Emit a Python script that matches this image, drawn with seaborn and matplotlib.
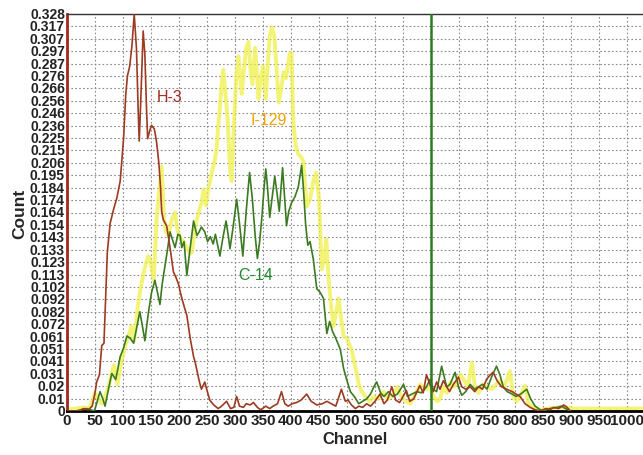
"""
액체섬광 스펙트럼 (H-3, I-129, C-14) 재현
"""

import numpy as np
import pandas as pd
import matplotlib
matplotlib.use("Agg")
import matplotlib.pyplot as plt
import seaborn as sns

# ---------------- 데이터 ----------------
h3_ch = [0, 20, 30, 38, 45, 50, 53, 58, 62, 66, 72, 77, 84, 89, 95, 101, 105, 108, 112, 116,
         120, 124, 127, 129, 132, 136, 139, 142, 144, 148, 151, 156, 160, 164, 167, 169, 172,
         178, 184, 190, 194, 199, 204, 210, 214, 220, 226, 229, 236, 240, 246, 250, 255, 262,
         270, 276, 285, 292, 298, 303, 308, 315, 320, 327, 333, 340, 346, 355, 362, 368, 376,
         383, 389, 395, 402, 410, 418, 428, 436, 446, 456, 464, 472, 480, 490, 497, 502, 508,
         515, 521, 528, 535, 542, 550, 559, 566, 572, 580, 587, 594, 600, 606, 612, 619, 625,
         630, 636, 642, 648, 654, 660, 666, 672, 678, 683, 690, 699, 705, 712, 720, 728, 735,
         742, 749, 756, 761, 768, 776, 785, 795, 802, 809, 818, 827, 836, 845, 855, 862, 869,
         878, 887, 893, 899]
h3_cnt = [0, 0, 0.002, 0.001, 0.004, 0.015, 0.024, 0.03, 0.054, 0.056, 0.131, 0.155, 0.168,
          0.176, 0.19, 0.225, 0.262, 0.277, 0.285, 0.302, 0.328, 0.3, 0.25, 0.223, 0.26, 0.314,
          0.295, 0.25, 0.225, 0.232, 0.236, 0.233, 0.222, 0.205, 0.185, 0.165, 0.158, 0.153,
          0.135, 0.115, 0.111, 0.105, 0.095, 0.085, 0.079, 0.06, 0.045, 0.04, 0.025, 0.018,
          0.024, 0.017, 0.009, 0.005, 0.002, 0.004, 0.008, 0.002, 0.003, 0.012, 0.004, 0.003,
          0.006, 0.005, 0.007, 0.003, 0.001, 0.004, 0.002, 0.004, 0.006, 0.016, 0.006, 0.004,
          0.006, 0.007, 0.009, 0.014, 0.008, 0.005, 0.006, 0.008, 0.006, 0.004, 0.018, 0.008,
          0.009, 0.005, 0.002, 0.004, 0.003, 0.006, 0.004, 0.008, 0.014, 0.006, 0.009, 0.02,
          0.009, 0.007, 0.012, 0.017, 0.008, 0.01, 0.016, 0.021, 0.015, 0.03, 0.022, 0.016,
          0.024, 0.018, 0.025, 0.02, 0.016, 0.022, 0.028, 0.02, 0.018, 0.02, 0.016, 0.02, 0.018,
          0.026, 0.03, 0.032, 0.025, 0.02, 0.018, 0.016, 0.014, 0.012, 0.006, 0.003, 0.001, 0.0,
          0.002, 0.001, 0.003, 0.002, 0.005, 0.003, 0.0]

i129_ch = [0, 15, 30, 40, 50, 56, 62, 68, 74, 79, 84, 90, 97, 104, 110, 115, 120, 126, 131,
           136, 141, 145, 149, 155, 160, 164, 169, 173, 177, 181, 187, 193, 197, 202, 208, 214,
           220, 223, 229, 235, 240, 244, 248, 253, 258, 263, 267, 270, 273, 276, 279, 283, 287,
           291, 294, 297, 300, 303, 306, 309, 312, 316, 320, 324, 328, 331, 336, 339, 342, 346,
           350, 355, 359, 362, 366, 370, 374, 378, 382, 387, 391, 398, 401, 404, 408, 413, 418,
           422, 428, 434, 440, 445, 450, 455, 459, 463, 467, 472, 476, 480, 485, 490, 494, 500,
           504, 508, 513, 517, 521, 526, 533, 540, 548, 555, 565, 572, 580, 590, 597, 605, 613,
           620, 631, 640, 648, 655, 661, 666, 672, 678, 685, 692, 702, 710, 716, 723, 729, 735,
           742, 750, 758, 766, 773, 781, 791, 797, 803, 809, 818, 824, 833, 845, 860, 875, 893,
           905, 920, 950, 1000, 1030]
i129_cnt = [0.001, 0.002, 0.003, 0.002, 0.015, 0.01, 0.006, 0.012, 0.02, 0.03, 0.038, 0.022,
            0.04, 0.054, 0.062, 0.07, 0.058, 0.085, 0.1, 0.112, 0.122, 0.128, 0.124, 0.108, 0.16,
            0.178, 0.202, 0.16, 0.148, 0.145, 0.158, 0.164, 0.15, 0.143, 0.14, 0.135, 0.13,
            0.131, 0.152, 0.164, 0.172, 0.183, 0.17, 0.185, 0.196, 0.205, 0.216, 0.235, 0.25,
            0.27, 0.282, 0.262, 0.24, 0.2, 0.19, 0.225, 0.255, 0.28, 0.293, 0.278, 0.262, 0.282,
            0.3, 0.305, 0.28, 0.27, 0.3, 0.28, 0.258, 0.275, 0.285, 0.258, 0.29, 0.31, 0.317,
            0.31, 0.285, 0.255, 0.265, 0.28, 0.275, 0.296, 0.295, 0.24, 0.22, 0.212, 0.21, 0.206,
            0.169, 0.175, 0.19, 0.197, 0.175, 0.117, 0.125, 0.142, 0.11, 0.085, 0.07, 0.08,
            0.093, 0.075, 0.062, 0.06, 0.055, 0.051, 0.04, 0.032, 0.022, 0.016, 0.012, 0.008,
            0.012, 0.01, 0.016, 0.01, 0.012, 0.02, 0.012, 0.008, 0.006, 0.012, 0.022, 0.018,
            0.02, 0.012, 0.008, 0.01, 0.02, 0.015, 0.024, 0.02, 0.03, 0.025, 0.02, 0.04, 0.018,
            0.015, 0.022, 0.02, 0.018, 0.022, 0.025, 0.02, 0.033, 0.012, 0.008, 0.012, 0.021,
            0.006, 0.003, 0.001, 0.002, 0.003, 0.003, 0.002, 0.002, 0.002, 0.002, 0.002]

c14_ch = [0, 16, 25, 35, 42, 49, 54, 59, 64, 68, 74, 80, 87, 95, 101, 107, 113, 119, 125, 130,
          134, 139, 145, 151, 157, 162, 166, 170, 175, 180, 184, 188, 193, 198, 202, 205, 209,
          214, 220, 226, 232, 236, 240, 246, 251, 256, 261, 265, 270, 273, 278, 284, 288, 291,
          296, 303, 308, 314, 320, 326, 331, 336, 340, 344, 348, 352, 355, 358, 362, 366, 371,
          375, 379, 385, 388, 392, 396, 401, 407, 413, 419, 422, 426, 430, 434, 440, 446, 452,
          458, 464, 469, 474, 480, 488, 494, 500, 506, 513, 521, 528, 535, 542, 548, 553, 560,
          566, 574, 582, 590, 601, 608, 616, 625, 633, 642, 648, 654, 660, 669, 678, 684, 693,
          699, 705, 712, 720, 728, 735, 742, 750, 758, 767, 773, 779, 786, 795, 802, 810, 821,
          828, 836, 845, 851, 862, 875, 883, 890, 899]
c14_cnt = [0, 0, 0.001, 0.002, 0.001, 0.0, 0.008, 0.016, 0.01, 0.004, 0.018, 0.031, 0.026,
           0.045, 0.052, 0.062, 0.06, 0.056, 0.07, 0.082, 0.072, 0.058, 0.08, 0.098, 0.108,
           0.097, 0.088, 0.105, 0.12, 0.135, 0.148, 0.142, 0.135, 0.146, 0.145, 0.135, 0.14,
           0.112, 0.135, 0.157, 0.145, 0.148, 0.152, 0.148, 0.14, 0.144, 0.138, 0.146, 0.135,
           0.128, 0.142, 0.157, 0.145, 0.134, 0.15, 0.175, 0.155, 0.128, 0.165, 0.197, 0.175,
           0.145, 0.126, 0.14, 0.16, 0.185, 0.2, 0.185, 0.16, 0.175, 0.194, 0.18, 0.165, 0.201,
           0.18, 0.153, 0.165, 0.172, 0.177, 0.185, 0.203, 0.185, 0.155, 0.137, 0.14, 0.125,
           0.101, 0.098, 0.093, 0.064, 0.074, 0.066, 0.06, 0.051, 0.035, 0.025, 0.016, 0.012,
           0.006, 0.008, 0.01, 0.014, 0.02, 0.024, 0.015, 0.012, 0.016, 0.012, 0.014, 0.022,
           0.012, 0.014, 0.016, 0.015, 0.02, 0.026, 0.018, 0.016, 0.037, 0.02, 0.022, 0.032,
           0.02, 0.013, 0.016, 0.022, 0.018, 0.02, 0.022, 0.018, 0.028, 0.037, 0.03, 0.02,
           0.016, 0.014, 0.012, 0.014, 0.018, 0.01, 0.004, 0.001, 0.0, 0.002, 0.003, 0.004,
           0.002, 0.0]

y_tick_labels = ["0", "0.01", "0.02", "0.031", "0.041", "0.051", "0.061", "0.072", "0.082",
                 "0.092", "0.102", "0.113", "0.123", "0.133", "0.143", "0.154", "0.164",
                 "0.174", "0.184", "0.195", "0.206", "0.215", "0.225", "0.236", "0.246",
                 "0.256", "0.266", "0.276", "0.287", "0.297", "0.307", "0.317", "0.328"]
y_max = 0.328
x_ticks = list(range(0, 1001, 50))
marker_channel = 650

# ---------------- 스타일 ----------------
sns.set_style("white")
plt.rcParams["font.family"] = ["Liberation Sans", "DejaVu Sans"]

fig = plt.figure(figsize=(6.43, 4.56), dpi=100)
ax = fig.add_axes([67 / 643, 44 / 456, 576 / 643, 397 / 456])

# 격자 (점선)
for xv in x_ticks:
    ax.axvline(xv, color="#8a8a8a", lw=0.8, ls=(0, (1.5, 2)), zorder=0)
for yv in np.linspace(0, y_max, len(y_tick_labels)):
    ax.axhline(yv, color="#8a8a8a", lw=0.8, ls=(0, (1.5, 2)), zorder=0)

# 스펙트럼
sns.lineplot(x=i129_ch, y=i129_cnt, ax=ax, color="#f0f048", lw=2.8, alpha=0.75,
             estimator=None, sort=False, zorder=2)
sns.lineplot(x=c14_ch, y=c14_cnt, ax=ax, color="#3c7a22", lw=1.2,
             estimator=None, sort=False, zorder=3)
sns.lineplot(x=h3_ch, y=h3_cnt, ax=ax, color="#9c3a22", lw=1.2,
             estimator=None, sort=False, zorder=4)

ax.axvline(marker_channel, color="#2e7a1e", lw=1.8, zorder=5)

# 라벨
ax.text(161, 0.260, "H-3", color="#a3281e", fontsize=11.5, va="center")
ax.text(327, 0.241, "I-129", color="#f2a400", fontsize=11.5, va="center")
ax.text(305, 0.113, "C-14", color="#1f8a2a", fontsize=11.5, va="center")

ax.set_xlim(0, 576 / 0.56)
ax.set_ylim(0, y_max)
ax.set_xticks(x_ticks)
ax.set_xticklabels([str(v) for v in x_ticks], fontsize=11, fontweight="bold", color="#222222")
ax.set_yticks(np.linspace(0, y_max, len(y_tick_labels)))
ax.set_yticklabels(y_tick_labels, fontsize=10, fontweight="bold", color="#222222")
ax.tick_params(length=0, pad=1.5)
for lab in ax.get_yticklabels():
    lab.set_verticalalignment("center")

ax.set_xlabel("Channel", fontsize=12, fontweight="bold", labelpad=3)
ax.set_ylabel("Count", fontsize=12.5, fontweight="bold", labelpad=2)

ax.spines["left"].set_color("#a0281e")
ax.spines["left"].set_linewidth(2)
ax.spines["bottom"].set_color("black")
ax.spines["bottom"].set_linewidth(2)
ax.spines["top"].set_color("#333333")
ax.spines["top"].set_linewidth(1)
ax.spines["right"].set_visible(False)

plt.savefig("out.png", dpi=100)
plt.close()
